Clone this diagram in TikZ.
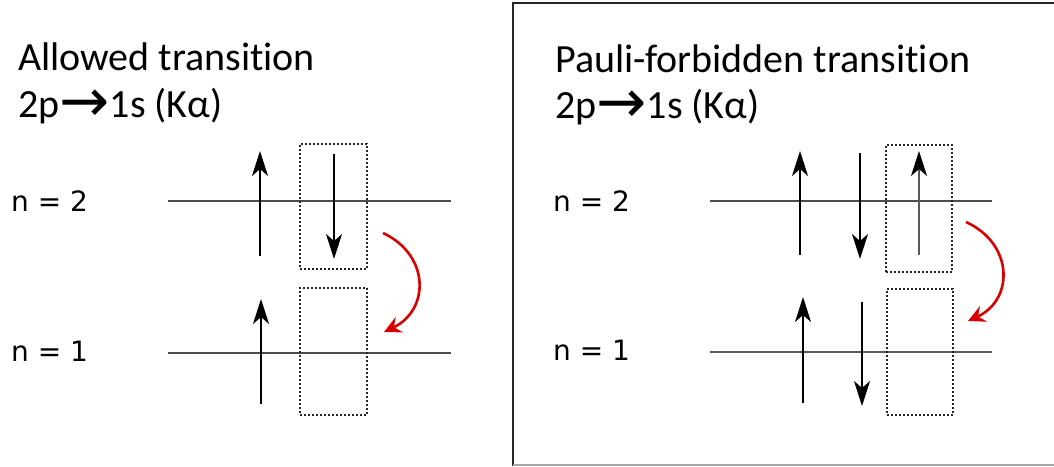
\documentclass[tikz,border=0pt]{standalone}
\usepackage{fontspec}
\setmainfont{Carlito}[Ligatures=NoCommon]
\newfontfamily\lblfont{DejaVu Sans}
\newfontfamily\symfont{DejaVu Sans}
\newcommand{\bigarrow}{\smash{\raisebox{-4pt}{\symfont\fontsize{60}{60}\selectfont\char"2192}}}
\usetikzlibrary{arrows.meta}
\tikzset{
  title/.style={anchor=base west, inner sep=0pt, font=\fontsize{40}{40}\selectfont},
  lvl/.style={anchor=base west, inner sep=0pt, font=\lblfont\fontsize{28}{28}\selectfont},
  level/.style={draw=black!70, line width=1.4pt},
  spin/.style={draw=black, line width=2pt, -{Stealth[length=25pt,width=16pt,inset=7pt,color=black]}},
  slot/.style={draw=black!85, line width=1.4pt, dash pattern=on 2pt off 2pt},
  jump/.style={draw=red!85!black, line width=2.6pt, -{Stealth[length=17pt,width=17pt,inset=6pt]}},
}
\begin{document}
\begin{tikzpicture}[x=1pt,y=-1pt]
\useasboundingbox (0,0) rectangle (1054,466);
% frame of right panel
\draw[black!85, line width=1.6pt] (513,466) -- (513,3) -- (1056,3);
\draw[black!35, line width=1.6pt] (513,465) -- (1056,465);

% ---------- left panel ----------
\node[title] (tA1) at (18,70) {Allowed transition};
\node[title] (tA2) at (18,117) {2p\bigarrow1s (Kα)};
\node[lvl] (lA2) at (11,211) {n = 2};
\node[lvl] (lA1) at (11,361) {n = 1};

\coordinate (a2s) at (168,201); \coordinate (a2e) at (451,201);
\coordinate (a1s) at (168,353); \coordinate (a1e) at (451,353);
\draw[level] (a2s) -- (a2e);
\draw[level] (a1s) -- (a1e);

\node[slot, minimum width=67pt, minimum height=125pt, inner sep=0pt] (bA2) at (333.5,206.5) {};
\node[slot, minimum width=67pt, minimum height=127pt, inner sep=0pt] (bA1) at (333.5,351.5) {};

\coordinate (u1b) at (260,256); \coordinate (u1t) at (260,151);
\coordinate (d1t) at (334,154); \coordinate (d1b) at (334,259);
\coordinate (u2b) at (261,404); \coordinate (u2t) at (261,299);
\draw[spin] (u1b) -- (u1t);
\draw[spin] (d1t) -- (d1b);
\draw[spin] (u2b) -- (u2t);

\coordinate (jAs) at (383,233); \coordinate (jAe) at (384,332);
\draw[jump] (jAs) .. controls (430,255) and (430,310) .. (jAe);

% ---------- right panel ----------
\node[title] (tB1) at (555,72) {Pauli-forbidden transition};
\node[title] (tB2) at (555,118) {2p\bigarrow1s (Kα)};
\node[lvl] (lB2) at (553,211) {n = 2};
\node[lvl] (lB1) at (553,360) {n = 1};

\coordinate (b2s) at (710,201); \coordinate (b2e) at (992,201);
\coordinate (b1s) at (710,352); \coordinate (b1e) at (992,352);
\draw[level] (b2s) -- (b2e);
\draw[level, line width=2.4pt, draw=black!65] (b1s) -- (b1e);

\node[slot, minimum width=66pt, minimum height=127pt, inner sep=0pt] (bB2) at (919,208.5) {};
\node[slot, minimum width=66pt, minimum height=126pt, inner sep=0pt] (bB1) at (920,352) {};

\coordinate (v1b) at (800,255); \coordinate (v1t) at (800,151);
\coordinate (w1t) at (860,153); \coordinate (w1b) at (860,259);
\coordinate (x1b) at (919,255); \coordinate (x1t) at (919,151);
\coordinate (v2b) at (803,403); \coordinate (v2t) at (803,297);
\coordinate (w2t) at (862,302); \coordinate (w2b) at (862,406);
\draw[spin] (v1b) -- (v1t);
\draw[spin] (w1t) -- (w1b);
\draw[spin, draw=black!65] (x1b) -- (x1t);
\draw[spin] (v2b) -- (v2t);
\draw[spin] (w2t) -- (w2b);

\coordinate (jBs) at (966,222); \coordinate (jBe) at (968,321);
\draw[jump] (jBs) .. controls (1014,244) and (1014,300) .. (jBe);
\end{tikzpicture}
\end{document}
